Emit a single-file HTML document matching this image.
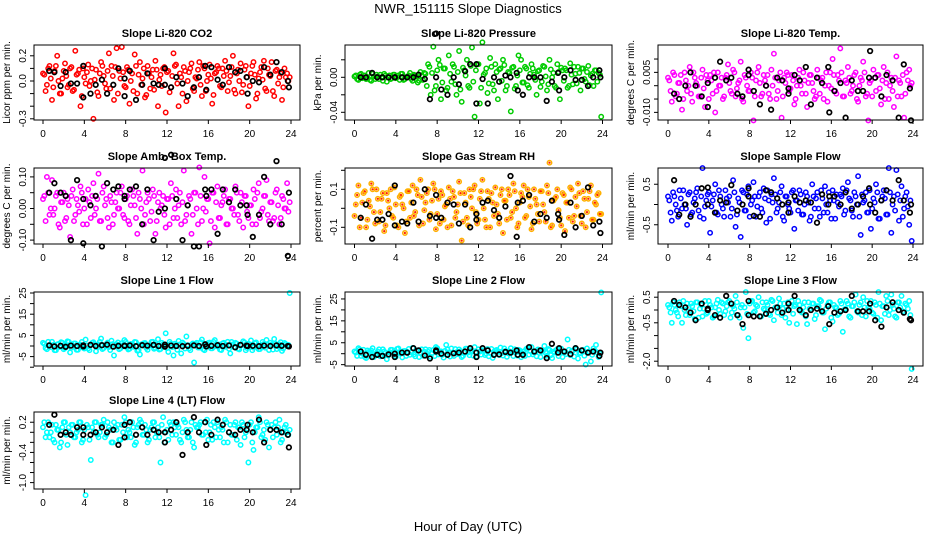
<!DOCTYPE html>
<html><head><meta charset="utf-8"><style>
html,body{margin:0;padding:0;background:#fff;}
svg{display:block;font-family:"Liberation Sans",Arial,sans-serif;}
</style></head><body>
<svg id="chart" width="936" height="540" viewBox="0 0 936 540" xmlns="http://www.w3.org/2000/svg">
<text x="468" y="13" text-anchor="middle" font-size="13">NWR_151115  Slope Diagnostics</text>
<text x="468" y="531" text-anchor="middle" font-size="13">Hour of Day (UTC)</text>
</svg>
<script>
const hours = [0.125,0.375,0.625,0.875,1.125,1.375,1.625,1.875,2.125,2.375,2.625,2.875,3.125,3.375,3.625,3.875,4.125,4.375,4.625,4.875,5.125,5.375,5.625,5.875,6.125,6.375,6.625,6.875,7.125,7.375,7.625,7.875,8.125,8.375,8.625,8.875,9.125,9.375,9.625,9.875,10.125,10.375,10.625,10.875,11.125,11.375,11.625,11.875,12.125,12.375,12.625,12.875,13.125,13.375,13.625,13.875,14.125,14.375,14.625,14.875,15.125,15.375,15.625,15.875,16.125,16.375,16.625,16.875,17.125,17.375,17.625,17.875,18.125,18.375,18.625,18.875,19.125,19.375,19.625,19.875,20.125,20.375,20.625,20.875,21.125,21.375,21.625,21.875,22.125,22.375,22.625,22.875,23.125,23.375,23.625,23.875];
const hours2 = [0.0,0.25,0.5,0.75,1.0,1.25,1.5,1.75,2.0,2.25,2.5,2.75,3.0,3.25,3.5,3.75,4.0,4.25,4.5,4.75,5.0,5.25,5.5,5.75,6.0,6.25,6.5,6.75,7.0,7.25,7.5,7.75,8.0,8.25,8.5,8.75,9.0,9.25,9.5,9.75,10.0,10.25,10.5,10.75,11.0,11.25,11.5,11.75,12.0,12.25,12.5,12.75,13.0,13.25,13.5,13.75,14.0,14.25,14.5,14.75,15.0,15.25,15.5,15.75,16.0,16.25,16.5,16.75,17.0,17.25,17.5,17.75,18.0,18.25,18.5,18.75,19.0,19.25,19.5,19.75,20.0,20.25,20.5,20.75,21.0,21.25,21.5,21.75,22.0,22.25,22.5,22.75,23.0,23.25,23.5,23.75];
const blackHours = [0.6,1.1,1.7,2.2,2.7,3.3,3.9,3.9,4.6,5.1,5.7,6.2,6.8,7.3,7.9,7.9,8.4,9.0,9.6,10.1,10.7,11.2,11.8,11.8,12.4,12.9,13.5,14.0,14.6,15.1,15.7,15.8,16.3,16.9,17.4,18.0,18.6,19.1,19.7,19.8,20.3,20.9,21.4,22.0,22.6,23.1,23.7,23.8];
const xTicks = [0,4,8,12,16,20,24];

const co2Vals = [0.05,-0.03,0.12,-0.15,0.08,0.2,-0.1,0.02,0.14,-0.05,0.1,-0.08,0.24,0.06,-0.2,0.1,-0.02,0.13,0.0,-0.3,0.09,-0.12,0.15,0.04,-0.06,0.22,0.12,-0.15,0.26,0.08,0.27,-0.04,0.11,-0.18,0.06,0.21,-0.1,0.15,0.02,-0.13,0.12,-0.06,0.09,0.16,-0.2,0.05,0.1,-0.25,0.08,-0.05,0.22,0.13,-0.2,0.03,0.11,-0.16,0.07,0.14,-0.08,0.02,0.15,-0.12,0.1,0.0,0.13,-0.18,0.06,0.12,-0.04,0.1,0.16,-0.08,0.04,0.2,-0.1,0.09,0.14,-0.03,0.12,-0.2,0.06,0.15,-0.14,0.02,0.11,0.16,-0.08,0.05,0.15,-0.12,0.09,0.03,-0.15,0.1,0.06,0.03];
const co2Vals2 = [0.06,-0.08,0.1,0.02,-0.05,0.12,0.0,-0.1,0.08,0.04,-0.03,0.11,-0.07,0.05,0.09,-0.12,0.03,0.07,-0.04,0.1,0.01,-0.09,0.06,0.12,-0.02,0.08,-0.06,0.04,0.11,-0.1,0.02,0.07,-0.05,0.09,0.0,-0.08,0.12,0.05,-0.03,0.1,-0.11,0.06,0.03,-0.07,0.09,0.01,-0.04,0.11,0.07,-0.09,0.04,0.12,-0.02,0.06,-0.1,0.08,0.0,0.1,-0.06,0.03,0.09,-0.03,0.12,-0.08,0.05,0.02,-0.11,0.07,0.1,-0.05,0.04,0.08,-0.01,0.11,-0.07,0.06,0.0,-0.09,0.09,0.03,-0.04,0.12,0.05,-0.1,0.07,0.01,-0.06,0.1,0.04,-0.08,0.08,-0.02,0.06,-0.05,0.03,0.0];
const co2Black = [0.08,0.07,-0.04,0.07,-0.02,-0.02,-0.13,0.12,-0.1,-0.03,0.01,-0.1,-0.03,0.1,0.02,-0.12,0.08,-0.15,-0.03,0.06,-0.02,-0.03,0.1,-0.03,-0.05,0.03,-0.02,-0.12,-0.05,0.03,0.12,-0.07,0.11,0.01,-0.03,0.11,0.07,0.08,0.03,-0.1,0.0,-0.01,0.11,0.05,0.15,0.07,0.0,-0.05];

const presVals = [0.002,-0.003,0.004,0.0,-0.002,0.005,-0.004,0.001,0.003,-0.002,0.0,0.004,-0.005,0.002,-0.001,0.003,0.0,-0.003,0.004,-0.002,0.001,0.005,-0.004,0.002,-0.006,0.006,-0.003,0.004,0.015,-0.02,0.035,-0.01,0.02,-0.025,0.01,-0.015,0.025,-0.005,0.012,-0.02,0.03,-0.028,0.008,0.02,-0.012,0.034,-0.045,0.015,-0.03,0.04,0.005,-0.018,0.022,-0.008,0.015,-0.025,0.01,0.02,-0.015,0.006,-0.039,0.012,-0.01,0.025,0.02,-0.006,0.01,-0.012,0.015,0.003,-0.02,0.008,-0.005,0.012,-0.015,0.02,0.0,-0.01,0.015,-0.025,0.008,0.01,-0.012,0.016,-0.008,0.004,0.012,-0.015,0.01,-0.005,0.013,0.002,-0.01,0.008,0.005,-0.045];
const presVals2 = [0.001,-0.002,0.003,-0.001,0.002,0.0,-0.003,0.004,-0.002,0.001,0.003,-0.004,0.002,0.0,-0.002,0.003,-0.001,0.002,0.004,-0.003,0.0,0.002,-0.002,0.003,0.001,-0.004,0.002,0.005,-0.01,0.012,0.005,-0.015,0.008,0.014,-0.006,0.01,-0.012,0.004,0.015,-0.008,0.006,-0.014,0.011,0.002,-0.01,0.013,-0.005,0.008,0.015,-0.012,0.003,0.01,-0.007,0.012,-0.015,0.006,0.009,-0.004,0.014,-0.01,0.005,0.011,-0.013,0.002,0.008,-0.006,0.012,-0.009,0.004,0.01,-0.003,0.007,-0.011,0.013,0.001,-0.008,0.009,0.005,-0.012,0.006,0.011,-0.004,0.008,-0.01,0.003,0.012,-0.007,0.005,0.01,-0.002,0.006,-0.009,0.004,0.008,-0.005,0.003];
const presBlack = [0.0,0.0,0.005,0.0,0.0,0.0,0.0,0.0,0.0,0.0,0.0,0.003,-0.002,-0.025,0.05,0.0,-0.014,-0.02,0.0,-0.008,0.007,0.015,0.015,-0.03,-0.002,-0.03,0.0,-0.005,0.002,0.0,0.005,-0.015,-0.02,0.0,0.0,0.0,-0.027,-0.005,0.005,-0.015,0.0,0.008,-0.003,-0.003,-0.01,0.0,0.008,0.0];

const tempVals = [0.002,-0.006,0.004,-0.003,0.001,-0.009,0.005,-0.002,0.007,-0.006,0.003,0.0,-0.004,0.006,-0.008,0.002,0.004,-0.003,-0.01,0.005,0.0,-0.005,0.003,0.008,-0.002,0.006,-0.004,0.001,0.009,-0.006,0.003,-0.002,0.005,-0.013,0.002,0.007,-0.004,0.004,0.0,-0.003,0.006,0.012,-0.005,0.002,-0.012,0.003,0.005,-0.002,0.004,-0.007,0.0,0.006,-0.003,0.002,-0.008,0.004,0.001,-0.005,0.006,-0.003,0.003,0.0,-0.006,0.005,0.01,-0.002,0.004,0.014,-0.004,0.002,0.007,-0.003,0.0,0.005,-0.006,0.003,0.009,-0.004,-0.013,0.002,0.006,-0.002,0.004,-0.007,0.007,0.001,-0.005,0.003,-0.008,0.011,0.002,-0.004,-0.012,0.005,0.006,0.001];
const tempVals2 = [0.003,-0.002,0.005,-0.004,0.001,0.004,-0.005,0.002,0.0,-0.003,0.005,0.001,-0.004,0.003,-0.001,0.004,-0.005,0.002,0.005,-0.002,0.0,0.003,-0.004,0.004,0.001,-0.003,0.005,-0.001,0.002,-0.005,0.004,0.0,-0.002,0.003,-0.004,0.005,0.001,-0.003,0.002,0.004,-0.005,0.0,0.003,-0.002,0.005,-0.004,0.001,0.004,-0.001,0.002,-0.005,0.003,0.0,0.005,-0.003,0.001,0.004,-0.002,-0.004,0.003,0.002,-0.005,0.005,0.0,-0.001,0.004,-0.003,0.002,0.005,-0.004,0.001,0.003,-0.002,0.004,-0.005,0.0,0.002,0.005,-0.003,0.001,-0.004,0.003,0.004,-0.001,0.002,-0.005,0.005,0.0,-0.002,0.003,-0.004,0.001,0.004,-0.003,0.002,0.0];
const tempBlack = [-0.003,-0.005,0.0,0.005,0.0,-0.004,0.001,-0.008,0.003,0.009,0.002,0.003,-0.003,-0.004,0.006,0.004,-0.002,-0.007,0.0,-0.009,0.003,0.002,-0.001,-0.003,0.004,0.002,0.007,-0.007,0.003,0.001,0.007,-0.01,-0.002,0.001,-0.012,0.002,-0.002,-0.002,0.003,0.013,0.003,-0.004,0.004,0.002,-0.012,0.008,-0.001,-0.013];

const ambVals = [0.04,0.1,-0.02,0.09,0.0,0.05,-0.06,0.02,-0.04,0.03,-0.09,0.06,-0.02,0.01,0.07,-0.05,0.03,0.06,-0.03,0.08,0.0,0.11,-0.04,0.07,0.03,-0.06,0.02,-0.02,0.05,0.0,0.07,-0.03,0.04,-0.05,0.06,0.01,-0.08,0.03,0.12,-0.02,0.05,-0.04,0.06,-0.08,0.02,0.0,0.04,-0.06,0.03,0.08,-0.03,0.06,0.01,-0.05,0.12,-0.02,0.04,-0.08,0.05,0.0,0.13,-0.04,0.10,0.03,-0.11,0.05,-0.06,0.07,-0.03,0.02,0.06,-0.05,0.03,0.0,0.07,-0.02,0.05,-0.06,0.04,-0.03,0.01,0.06,-0.05,0.08,-0.01,0.04,0.09,-0.04,0.02,-0.03,0.06,-0.05,0.04,0.0,0.08,0.02];
const ambVals2 = [0.03,-0.04,0.05,0.0,-0.02,0.04,-0.05,0.02,0.05,-0.03,0.01,0.04,-0.04,0.03,-0.01,0.05,0.0,-0.05,0.02,0.04,-0.02,0.03,-0.04,0.05,0.01,-0.03,0.04,-0.05,0.02,0.0,0.05,-0.02,0.03,-0.04,0.01,0.04,-0.03,0.05,0.0,-0.05,0.02,0.03,-0.01,0.04,-0.04,0.05,0.01,-0.02,0.03,-0.05,0.04,0.0,-0.03,0.05,0.02,-0.04,0.01,0.03,-0.02,0.05,-0.05,0.04,0.0,-0.01,0.03,-0.04,0.05,0.02,-0.03,0.01,0.04,-0.05,0.03,0.0,-0.02,0.05,-0.04,0.02,0.04,-0.01,0.01,-0.05,0.03,0.05,-0.03,0.0,0.04,-0.02,0.02,-0.04,0.05,0.01,-0.03,0.03,0.0,-0.01];
const ambBlack = [0.05,0.08,0.05,0.04,-0.1,0.09,0.03,-0.11,0.01,0.04,-0.12,0.08,0.06,0.07,0.04,0.03,0.06,0.07,-0.05,0.06,-0.1,-0.01,0.16,0.0,0.17,0.03,-0.1,0.01,-0.12,-0.12,0.06,0.04,0.06,-0.08,0.06,0.02,0.06,0.01,0.01,-0.02,-0.09,-0.02,0.1,-0.05,0.15,-0.05,-0.15,0.05];

const rhVals = [0.02,0.12,-0.05,0.08,-0.1,0.04,0.13,-0.02,0.1,-0.07,0.05,-0.12,0.08,0.0,-0.04,0.11,-0.09,0.06,0.02,-0.13,0.09,-0.05,0.12,-0.02,0.07,0.15,-0.08,0.03,0.1,-0.03,0.13,-0.11,0.05,0.09,-0.06,0.02,0.11,-0.09,0.06,-0.02,0.14,-0.17,0.08,-0.05,0.1,0.0,0.12,-0.08,0.05,0.15,-0.06,0.09,-0.1,0.03,0.11,-0.03,0.07,-0.13,0.04,0.1,-0.05,0.13,0.0,-0.08,0.08,0.12,-0.04,0.06,-0.11,0.1,0.02,-0.07,0.09,-0.02,0.12,0.24,-0.09,0.05,0.1,-0.05,0.08,-0.12,0.03,0.11,-0.07,0.06,0.13,-0.04,0.09,-0.1,0.05,0.12,-0.06,0.02,0.08,-0.03];
const rhVals2 = [-0.04,0.07,-0.1,0.03,0.09,-0.06,0.01,0.1,-0.08,0.05,-0.02,0.08,-0.09,0.04,0.1,-0.05,0.02,-0.1,0.07,0.0,-0.07,0.09,0.03,-0.04,0.1,-0.09,0.06,-0.01,0.08,-0.06,0.04,0.1,-0.03,-0.08,0.07,0.01,-0.1,0.05,0.09,-0.05,0.02,0.08,-0.07,0.03,-0.09,0.06,0.1,-0.02,-0.06,0.09,0.0,-0.1,0.05,0.08,-0.04,0.02,-0.08,0.1,0.04,-0.06,0.07,-0.02,0.09,-0.1,0.03,0.06,-0.05,0.1,0.01,-0.08,0.05,-0.03,0.09,0.02,-0.07,0.08,-0.1,0.04,0.06,-0.01,-0.09,0.07,0.03,-0.05,0.1,-0.04,0.01,0.08,-0.08,0.05,-0.02,0.09,-0.06,0.03,0.07,-0.03];
const rhBlack = [-0.05,0.02,-0.16,-0.06,-0.06,-0.03,-0.09,0.12,-0.07,-0.08,0.03,-0.07,0.1,-0.04,0.07,-0.05,-0.05,0.03,0.02,-0.08,0.02,-0.1,-0.03,-0.06,0.03,0.04,-0.01,-0.05,0.01,0.17,-0.15,0.03,0.04,0.07,-0.07,-0.03,-0.05,0.04,-0.03,-0.06,-0.14,0.03,-0.1,-0.04,0.11,-0.09,-0.07,-0.13];

const sampVals = [0.1,-0.4,0.2,-0.15,0.35,-0.1,0.0,-0.5,0.3,-0.2,0.15,0.4,-0.3,0.9,-0.05,0.25,-0.7,0.1,0.5,-0.25,0.2,-0.1,0.35,0.05,-0.3,0.6,-0.55,0.15,-0.8,0.3,-0.15,0.45,0.0,0.55,-0.3,0.2,-0.1,0.4,-0.45,0.1,0.25,0.65,-0.2,0.05,0.45,-0.4,0.2,-0.1,0.3,-0.6,0.1,0.35,-0.25,0.0,0.2,-0.4,0.5,-0.1,0.3,-0.3,0.15,0.45,-0.2,0.1,0.35,-0.35,0.05,0.25,0.4,-0.15,0.55,0.1,-0.3,0.2,0.7,-0.75,0.05,0.3,-0.2,-0.6,0.15,0.5,-0.35,0.1,0.35,-0.25,0.9,-0.7,0.2,0.85,-0.4,0.45,-0.1,0.3,-0.5,-0.9];
const sampVals2 = [0.2,-0.2,0.3,0.0,-0.3,0.15,0.35,-0.1,0.25,-0.25,0.05,0.3,-0.15,0.2,-0.35,0.1,0.3,-0.05,0.25,-0.2,0.35,0.0,-0.3,0.15,0.2,-0.1,0.3,-0.25,0.05,0.35,-0.15,0.25,-0.3,0.1,0.2,-0.05,0.3,-0.2,0.15,0.35,-0.35,0.05,0.25,-0.1,0.3,-0.3,0.2,0.0,-0.2,0.35,0.1,-0.15,0.25,-0.25,0.3,0.05,-0.3,0.2,0.15,-0.1,0.35,-0.2,0.0,0.3,-0.35,0.1,0.25,-0.05,0.2,-0.25,0.35,0.15,-0.15,0.3,0.0,-0.3,0.25,0.1,-0.2,0.35,-0.1,0.05,0.3,-0.35,0.2,0.15,-0.25,0.3,0.0,-0.15,0.25,0.1,-0.3,0.2,-0.05,0.1];
const sampBlack = [0.6,-0.25,0.0,-0.3,0.0,0.4,0.42,0.0,-0.2,0.1,0.05,0.48,-0.15,0.0,0.2,0.4,-0.28,-0.3,0.35,0.3,0.15,0.0,0.05,-0.2,0.2,0.05,0.1,0.05,-0.45,0.25,0.0,0.2,0.2,0.0,0.3,-0.1,0.0,0.2,0.4,0.0,-0.2,0.1,0.35,0.1,0.6,0.1,-0.2,0.0];

const l1Vals = [1,-1.5,0.5,2,-2,0.8,-0.5,1.5,-1,2.2,-3,0.3,1.2,-1.8,0.6,-0.8,3,-1.2,0.5,1.8,-2.5,0.7,3.5,-1,1,-0.5,2.5,-4.5,0.8,-1.5,1.3,2.8,-0.6,-1.3,0.4,1.9,-2.2,-4,0.9,1.4,-1.8,0.3,2,-0.9,3.2,-1.4,0.7,6,-2.8,1.1,-4.5,0.5,2.4,-3.5,1,4.5,-1.2,0.6,-7.8,1.5,-0.7,3,-2,0.9,1.6,-1.1,2.8,0.2,-1.7,1.2,-0.4,2,-3.5,0.8,1.5,-1.3,0.5,2.2,-2,1.1,2.6,-0.8,1.7,-1.5,0.4,1,2.9,-1.9,0.6,3.3,-1.4,0.8,-2.3,1.4,0.3,25];
const l1Vals2 = [1.5,-1,2,-0.5,0.5,-2,1,1.8,-1.5,0.2,2,-0.8,1.2,-1.8,0.6,1.9,-1.2,0.3,-2,1.4,0.8,-0.6,2,-1.4,0.4,1.6,-1.9,0.9,-0.3,1.7,-1.1,0.5,2,-1.6,1,-0.4,1.8,-2,0.7,1.3,-0.9,0.1,1.9,-1.3,0.6,-1.7,1.5,0.2,-1,2,-0.5,1.1,-1.8,0.8,1.6,-1.2,0.4,-2,1.2,0.9,-0.7,1.8,-1.5,0.3,1.4,-1.1,2,-0.2,0.7,-1.9,1.5,0.5,-1.3,1.9,-0.6,1.1,-1.6,0.4,1.7,-1,0.8,-2,1.3,0.2,-1.4,1.9,-0.8,0.6,1.5,-1.7,1.1,-0.3,1.8,-1.2,0.9,0.5];
const l1Black = [0.3,-0.2,0.1,-0.4,0.2,0.0,0.3,-0.2,0.5,0.0,0.4,0.6,-0.3,0.1,0.2,0.0,0.3,-0.1,0.4,0.2,0.5,0.0,0.6,-0.3,0.2,0.0,-0.1,0.1,0.3,0.0,0.8,-0.2,0.1,0.4,0.0,0.3,-0.6,0.5,0.2,0.0,0.1,-0.1,0.2,0.0,0.3,0.1,0.0,-0.2];

const l2Vals = [0.5,2.5,-1,1.8,-2,0.8,1.5,-1.5,0.2,2,-0.8,1,-2.5,0.6,1.8,-1,2.2,0.3,-1.7,1.3,0.8,-0.5,2.6,-1.2,1.5,0.2,-0.9,2,0.9,-1.4,1.7,3,-0.3,1.1,-1.8,4,0.5,2.4,-1,0.7,1.9,-1.5,0.4,2.3,-0.7,1.2,3,-1.3,0.9,1.6,-0.6,2.1,0.3,-1.9,1.4,0.8,2.8,-0.8,1.3,0.2,2.5,-1.1,0.7,1.8,-1.6,1,2.2,-0.4,3,0.6,-1.2,1.5,0.9,3.5,-0.9,1.7,-2,0.5,2.1,1.2,-1.5,0.8,6.5,-0.6,1.4,2.6,-2.2,0.3,1.8,-5,0.9,-3.5,2.4,4,-1.5,28];
const l2Vals2 = [1,-1,2,0,-1.5,1.5,0.5,2.5,-0.5,1,-1.2,2,0.3,-0.8,1.8,0.8,-1.4,2.4,0.1,1.2,-1,2.2,0.6,-0.3,1.5,-1.5,2,0.9,-0.7,1.7,0.2,-1.1,2.5,0.7,-0.5,1.3,1.9,-1.3,0.4,2.1,-0.2,1.1,-1,2.3,0.5,1.6,-0.9,0.8,2,-0.4,1.4,0.1,-1.2,2.2,0.9,1.7,-0.6,0.3,2.4,-1.4,1,0.6,2,-0.8,1.5,0.2,-1,2.5,1.2,-0.3,0.7,1.9,-1.5,1.3,0.4,2.1,-0.7,0.9,1.6,-1.1,2.3,0.5,-0.2,1.8,1,-1.3,2,0.2,1.4,-0.9,2.4,0.8,-0.5,1.5,0.6,0];
const l2Black = [1,-0.5,-1.5,-0.5,-1,-0.3,0,-1.5,0.5,0.5,2.5,1.5,-0.8,-2.2,1.5,1,0,-0.5,0.2,0.5,1,2.5,-1.5,0.5,2.5,1.5,-0.5,-0.3,0.8,0.5,1.5,-0.5,-0.5,3,1,1.5,-2,4.5,0.5,2.5,1,-0.2,2.5,1.5,0.5,1,-1,0.5];

const l3Vals = [0.1,-0.5,0.2,-0.1,0.3,-0.5,0.0,0.25,-0.2,0.15,-0.35,0.3,0.05,-0.25,0.35,-0.1,0.2,-0.3,0.1,0.4,-0.15,0.25,-0.05,0.3,-0.3,0.15,0.55,-0.2,0.1,-0.7,0.7,-1.1,0.35,-0.1,0.2,0.5,-0.25,0.05,0.3,-0.15,0.4,-0.4,0.1,0.45,-0.2,0.25,0.0,-0.5,0.35,0.15,-0.55,0.2,-0.1,0.3,-0.55,0.05,0.25,-0.35,0.15,0.4,-0.1,-0.75,0.2,0.3,-0.45,0.1,-0.2,0.35,-0.85,0.05,0.25,-0.3,0.15,0.6,-0.1,0.3,0.5,-0.25,0.1,0.35,-0.15,0.2,0.7,-0.4,0.15,0.55,-0.2,0.6,0.05,-0.3,0.3,0.55,-0.1,0.2,0.35,-2.3];
const l3Vals2 = [0.2,-0.1,0.3,0.0,-0.25,0.15,0.35,-0.2,0.1,0.25,-0.05,0.3,-0.3,0.2,0.05,-0.15,0.35,0.1,-0.25,0.25,0.0,0.3,-0.2,0.15,0.35,-0.1,0.05,0.3,-0.3,0.2,0.1,-0.15,0.25,0.35,-0.05,0.15,-0.25,0.3,0.0,0.2,-0.2,0.35,0.1,-0.1,0.25,0.05,-0.3,0.3,0.15,-0.15,0.2,0.35,-0.05,0.1,-0.25,0.3,0.0,0.25,-0.2,0.15,0.35,-0.1,0.05,0.3,-0.3,0.2,0.1,-0.15,0.25,0.0,0.35,-0.25,0.15,0.3,-0.05,0.2,-0.2,0.1,0.35,0.05,-0.1,0.3,-0.3,0.25,0.15,-0.15,0.35,0.0,0.2,-0.25,0.3,0.1,-0.05,0.25,0.05,-0.2];
const l3Black = [0.35,0.2,0.1,-0.1,-0.4,0.25,0.0,0.05,-0.2,-0.3,0.55,0.25,-0.2,-0.55,0.35,-0.2,-0.25,-0.25,-0.15,0.0,0.1,-0.1,0.25,0.0,0.55,0.0,-0.2,0.0,0.05,-0.05,0.15,-0.55,-0.1,-0.05,0.0,0.55,-0.05,-0.05,-0.05,0.25,-0.4,-0.65,0.1,0.3,0.0,-0.1,-0.35,-0.4];

const l4Vals = [0.2,0.0,-0.1,0.15,-0.2,0.05,-0.3,0.1,0.2,-0.25,0.0,0.15,-0.1,0.05,0.2,-0.15,-1.25,0.1,-0.55,0.0,0.2,-0.1,0.15,0.25,-0.05,0.1,-0.2,0.2,0.05,-0.15,0.15,0.3,-0.1,0.0,0.2,-0.25,0.1,0.25,-0.05,0.15,-0.2,0.05,0.2,-0.1,0.1,-0.6,0.3,0.0,-0.15,0.15,0.2,-0.05,0.1,-0.2,0.25,0.05,-0.1,0.2,-0.3,0.1,0.15,-0.05,0.2,0.25,0.0,-0.15,0.1,0.2,-0.1,0.05,0.25,-0.2,0.15,-0.05,0.2,0.1,-0.25,0.15,0.0,-0.6,0.2,-0.35,0.1,0.3,-0.1,0.05,0.2,-0.3,0.15,0.1,-0.05,0.25,-0.15,0.1,0.0,0.05];
const l4Vals2 = [0.1,-0.1,0.2,0.0,-0.15,0.15,0.05,-0.2,0.2,-0.05,0.1,0.15,-0.1,0.0,0.2,-0.2,0.05,0.15,-0.15,0.1,0.2,-0.05,0.0,0.15,-0.1,0.2,0.05,-0.2,0.1,0.15,-0.15,0.0,0.2,0.05,-0.1,0.1,-0.2,0.15,0.2,-0.05,0.05,-0.15,0.1,0.2,0.0,-0.1,0.15,-0.2,0.05,0.2,-0.05,0.1,0.15,-0.15,0.0,0.2,-0.1,0.05,-0.2,0.15,0.1,0.2,-0.05,0.0,-0.15,0.15,0.2,-0.1,0.05,0.1,-0.2,0.2,0.0,-0.05,0.15,-0.15,0.1,0.2,-0.1,0.05,0.15,-0.2,0.0,0.1,0.2,-0.05,-0.15,0.15,0.05,-0.1,0.2,0.1,-0.2,0.0,0.15,-0.05];
const l4Black = [0.15,0.35,-0.05,0.0,-0.05,0.1,0.1,-0.05,-0.05,0.0,0.1,0.0,0.05,-0.25,0.15,-0.1,0.2,-0.05,0.1,-0.05,0.05,0.0,0.0,-0.2,0.05,0.2,-0.45,0.0,0.3,0.0,0.2,-0.25,-0.05,0.25,0.15,0.0,-0.05,0.05,0.05,0.15,0.0,0.25,-0.2,0.05,0.05,0.0,-0.05,-0.3];

const co2Ticks=[0.2,0.1,0,-0.1,-0.2,-0.3], co2Labels=["0.2","","0.0","","","-0.3"];
const presTicks=[0.02,0,-0.02,-0.04], presLabels=["","0.00","","-0.04"];
const tempTicks=[0.01,0.005,0,-0.005,-0.01], tempLabels=["","0.005","","","-0.010"];
const ambTicks=[0.1,0.05,0,-0.05,-0.1], ambLabels=["0.10","","0.00","","-0.10"];
const rhTicks=[0.2,0.1,0,-0.1], rhLabels=["","0.1","","-0.1"];
const sampTicks=[0.5,0,-0.5], sampLabels=["0.5","","-0.5"];
const l1Ticks=[25,20,15,10,5,0,-5,-10], l1Labels=["25","","15","","5","","-5",""];
const l2Ticks=[25,20,15,10,5,0,-5], l2Labels=["25","","15","","5","","-5"];
const l3Ticks=[0.5,0,-0.5,-1,-1.5,-2], l3Labels=["0.5","","-0.5","","","-2.0"];
const l4Ticks=[0.2,0,-0.2,-0.4,-0.6,-0.8,-1.0], l4Labels=["0.2","","","-0.4","","","-1.0"];

const NS="http://www.w3.org/2000/svg";
const svg=document.getElementById('chart');
function mk(tag,attrs,parent){const e=document.createElementNS(NS,tag);for(const k in attrs)e.setAttribute(k,attrs[k]);(parent||svg).appendChild(e);return e;}

const panels=[
 {id:'co2',title:'Slope Li-820 CO2',ylab:'Licor ppm per min.',box:[34,45,300,120],x0:43,x24:291,yv:0,yp:81,ys:126,col:'#ff0000',vals:co2Vals,vals2:co2Vals2,blk:co2Black,ticks:co2Ticks,labels:co2Labels},
 {id:'pressure',title:'Slope Li-820 Pressure',ylab:'kPa per min.',box:[345,45,612,120],x0:354.5,x24:602.5,yv:0,yp:77.3,ys:875,col:'#00cc00',vals:presVals,vals2:presVals2,blk:presBlack,ticks:presTicks,labels:presLabels},
 {id:'temp',title:'Slope Li-820 Temp.',ylab:'degrees C per min.',box:[658,45,923,120],x0:668,x24:913,yv:0,yp:85.7,ys:2667,col:'#ff00ff',vals:tempVals,vals2:tempVals2,blk:tempBlack,ticks:tempTicks,labels:tempLabels},
 {id:'amb-box-temp',title:'Slope Amb. Box Temp.',ylab:'degrees C per min.',box:[34,168,300,244],x0:43,x24:291,yv:0,yp:208.5,ys:316,col:'#ff00ff',vals:ambVals,vals2:ambVals2,blk:ambBlack,ticks:ambTicks,labels:ambLabels},
 {id:'gas-stream-rh',title:'Slope Gas Stream RH',ylab:'percent per min.',box:[345,168,612,244],x0:354.5,x24:602.5,yv:0,yp:208.3,ys:190,col:'#ffb000',vals:rhVals,vals2:rhVals2,blk:rhBlack,ticks:rhTicks,labels:rhLabels,rh:true},
 {id:'sample-flow',title:'Slope Sample Flow',ylab:'ml/min per min.',box:[658,168,923,244],x0:668,x24:913,yv:0,yp:204.5,ys:40.5,col:'#0000ff',vals:sampVals,vals2:sampVals2,blk:sampBlack,ticks:sampTicks,labels:sampLabels},
 {id:'line1-flow',title:'Slope Line 1 Flow',ylab:'ml/min per min.',box:[34,292,300,366],x0:43,x24:291,yv:0,yp:346,ys:2.12,col:'#00ffff',vals:l1Vals,vals2:l1Vals2,blk:l1Black,ticks:l1Ticks,labels:l1Labels},
 {id:'line2-flow',title:'Slope Line 2 Flow',ylab:'ml/min per min.',box:[345,292,612,366],x0:354.5,x24:602.5,yv:0,yp:353.7,ys:2.19,col:'#00ffff',vals:l2Vals,vals2:l2Vals2,blk:l2Black,ticks:l2Ticks,labels:l2Labels},
 {id:'line3-flow',title:'Slope Line 3 Flow',ylab:'ml/min per min.',box:[658,292,923,366],x0:668,x24:913,yv:0,yp:310,ys:25.6,col:'#00ffff',vals:l3Vals,vals2:l3Vals2,blk:l3Black,ticks:l3Ticks,labels:l3Labels},
 {id:'line4-flow',title:'Slope Line 4 (LT) Flow',ylab:'ml/min per min.',box:[34,412,300,489],x0:43,x24:291,yv:0,yp:432.3,ys:50.3,col:'#00ffff',vals:l4Vals,vals2:l4Vals2,blk:l4Black,ticks:l4Ticks,labels:l4Labels}
];

panels.forEach(p=>{
  const [L,T,R,B]=p.box;
  const xs=h=>p.x0+(p.x24-p.x0)*h/24;
  const ys=v=>p.yp-(v-p.yv)*p.ys;
  const g=mk('g',{});
  
  
  const t=mk('text',{x:(L+R)/2,y:T-8,'text-anchor':'middle','font-size':'11','font-weight':'bold'},g);
  t.textContent=p.title;
  
  
  const pts=mk('g',{fill:'none','stroke-width':'1.5'},g);
  
  
  function drawSet(hs,vs){
    const n=Math.min(hs.length,vs.length);
    for(let i=0;i<n;i++){
      const c=mk('circle',{cx:xs(hs[i]).toFixed(1),cy:ys(vs[i]).toFixed(1),r:2.2,stroke:p.col},pts);
      
      
      if(p.rh){
        const d=mk('circle',{cx:xs(hs[i]).toFixed(1),cy:ys(vs[i]).toFixed(1),r:1.1,fill:'#ff2000',stroke:'none'},pts);
        
        
      }
    }
  }
  drawSet(hours,p.vals);
  drawSet(hours2,p.vals2);
  const m=Math.min(blackHours.length,p.blk.length);
  for(let i=0;i<m;i++){
    const c=mk('circle',{cx:xs(blackHours[i]).toFixed(1),cy:ys(p.blk[i]).toFixed(1),r:2.3,stroke:'#000','stroke-width':'1.7'},pts);
    
    
  }
  const box=mk('rect',{x:L,y:T,width:R-L,height:B-T,fill:'none',stroke:'#000','stroke-width':'1'},g);
  
  
  const xa=mk('g',{},g);
  
  
  xTicks.forEach(h=>{
    mk('line',{x1:xs(h),x2:xs(h),y1:B,y2:B+4,stroke:'#000'},xa);
    const tl=mk('text',{x:xs(h),y:B+17,'text-anchor':'middle','font-size':'10'},xa);
    tl.textContent=h;
  });
  const ya=mk('g',{},g);
  
  
  p.ticks.forEach((v,i)=>{
    const y=ys(v);
    mk('line',{x1:L-4,x2:L,y1:y,y2:y,stroke:'#000'},ya);
    if(p.labels[i]){
      const tl=mk('text',{x:L-8,y:y,'text-anchor':'middle','font-size':'10',transform:`rotate(-90 ${L-8} ${y})`},ya);
      tl.textContent=p.labels[i];
    }
  });
  const yl=mk('text',{x:L-24,y:(T+B)/2,'text-anchor':'middle','font-size':'10',transform:`rotate(-90 ${L-24} ${(T+B)/2})`},g);
  yl.textContent=p.ylab;
  
  
});
</script>
</body></html>
